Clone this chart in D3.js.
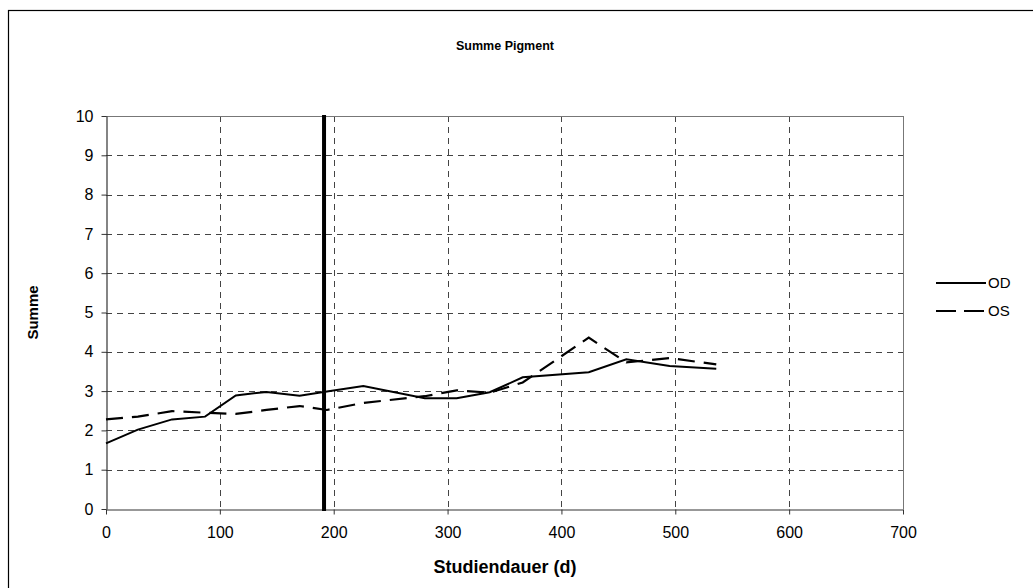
<!DOCTYPE html>
<html lang="de">
<head>
<meta charset="UTF-8">
<title>Summe Pigment</title>
<script src="https://d3js.org/d3.v7.min.js"></script>
<style>
    body { margin: 0; background: #fff; }
    .tick text { font-family: "Liberation Sans", Arial, sans-serif; font-size: 16px; fill: #000; }
    .titel { font-family: "Liberation Sans", Arial, sans-serif; font-weight: bold; }
    .legende { font-family: "Liberation Sans", Arial, sans-serif; font-size: 15px; }
</style>
</head>
<body>
<svg width="1033" height="588"></svg>

<script>
    // Messzeitpunkte (Tage) und Werte
    const tage = [0, 28, 58, 87, 114, 141, 170, 194, 226, 280, 308, 337, 366, 424, 457, 495, 536];
    const od = [1.67, 2.02, 2.28, 2.35, 2.89, 2.98, 2.88, 2.99, 3.13, 2.82, 2.82, 2.97, 3.35, 3.48, 3.81, 3.64, 3.57];
    const os = [2.28, 2.35, 2.49, 2.45, 2.42, 2.52, 2.62, 2.52, 2.70, 2.87, 3.02, 2.96, 3.22, 4.36, 3.73, 3.84, 3.68];
    const xTicks = [0, 100, 200, 300, 400, 500, 600, 700];
    const yTicks = [0, 1, 2, 3, 4, 5, 6, 7, 8, 9, 10];
    const markierung = 191.5; // senkrechte Linie
    const serien = ["OD", "OS"];

    const svg = d3.select("svg");

    const x = d3.scaleLinear().domain([0, 700]).range([106, 903]);
    const y = d3.scaleLinear().domain([0, 10]).range([509, 116]);

    // Rahmen
    svg.append("rect")
        .attr("x", 8.5).attr("y", 10.5)
        .attr("width", 1040).attr("height", 600)
        .attr("fill", "none").attr("stroke", "#000").attr("stroke-width", 1.2);

    // Gitterlinien
    svg.append("g").selectAll("line")
        .data(yTicks.slice(1, -1))
        .enter().append("line")
        .attr("x1", x(0)).attr("x2", x(700))
        .attr("y1", d => Math.round(y(d)) + 0.5).attr("y2", d => Math.round(y(d)) + 0.5)
        .attr("stroke", "#444").attr("stroke-dasharray", "6,5");

    svg.append("g").selectAll("line")
        .data(xTicks.slice(1, -1))
        .enter().append("line")
        .attr("y1", y(10)).attr("y2", y(0))
        .attr("x1", d => Math.round(x(d)) + 0.5).attr("x2", d => Math.round(x(d)) + 0.5)
        .attr("stroke", "#444").attr("stroke-dasharray", "6,5");

    // obere und rechte Kante
    svg.append("line")
        .attr("x1", x(0)).attr("x2", x(700))
        .attr("y1", y(10) + 0.5).attr("y2", y(10) + 0.5)
        .attr("stroke", "#777");
    svg.append("line")
        .attr("x1", x(700) + 0.5).attr("x2", x(700) + 0.5)
        .attr("y1", y(10)).attr("y2", y(0))
        .attr("stroke", "#777");

    // Achsen
    const xAxis = svg.append("g")
        .attr("transform", "translate(0," + (y(0) + 0.5) + ")")
        .call(d3.axisBottom(x).tickValues(xTicks).tickSize(5).tickPadding(8).tickSizeOuter(0));
    const yAxis = svg.append("g")
        .attr("transform", "translate(" + (x(0) + 0.5) + ",0)")
        .call(d3.axisLeft(y).tickValues(yTicks).tickSize(5).tickPadding(8).tickSizeOuter(0));
    svg.selectAll(".domain").attr("stroke", "#333").attr("stroke-width", 1.2);
    svg.selectAll(".tick line").attr("stroke", "#333");
    xAxis.selectAll(".tick text").attr("dy", "0.95em");

    // senkrechte Markierung
    svg.append("line")
        .attr("x1", x(markierung)).attr("x2", x(markierung))
        .attr("y1", y(10) - 1).attr("y2", y(0) + 2)
        .attr("stroke", "#000").attr("stroke-width", 4);

    // Kurven
    const linie = d3.line()
        .x(d => x(d[0]))
        .y(d => y(d[1]));

    svg.append("path")
        .datum(d3.zip(tage, od))
        .attr("d", linie)
        .attr("fill", "none").attr("stroke", "#000").attr("stroke-width", 2);

    svg.append("path")
        .datum(d3.zip(tage, os))
        .attr("d", linie)
        .attr("fill", "none").attr("stroke", "#000").attr("stroke-width", 2.2)
        .attr("stroke-dasharray", "17,9");

    // Titel
    svg.append("text").attr("class", "titel")
        .attr("x", 505).attr("y", 50).attr("text-anchor", "middle")
        .style("font-size", "12.5px")
        .text("Summe Pigment");
    svg.append("text").attr("class", "titel")
        .attr("x", 505).attr("y", 573).attr("text-anchor", "middle")
        .style("font-size", "18px")
        .text("Studiendauer (d)");
    svg.append("text").attr("class", "titel")
        .attr("transform", "translate(38," + (y(5)) + ") rotate(-90)")
        .attr("text-anchor", "middle")
        .style("font-size", "15px")
        .text("Summe");

    // Legende
    const leg = svg.append("g");
    serien.forEach(function (s, i) {
        const ly = 283 + i * 28;
        leg.append("line")
            .attr("x1", 936).attr("x2", 986)
            .attr("y1", ly).attr("y2", ly)
            .attr("stroke", "#000").attr("stroke-width", 2.2)
            .attr("stroke-dasharray", i === 1 ? "20,8" : null);
        leg.append("text").attr("class", "legende")
            .attr("x", 988).attr("y", ly + 5)
            .text(s);
    });
</script>
</body>
</html>
